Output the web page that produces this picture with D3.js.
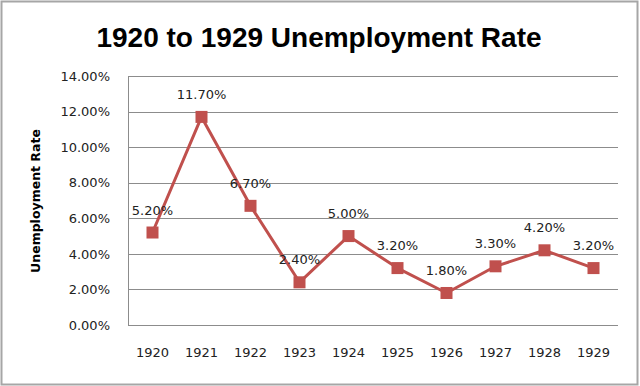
<!DOCTYPE html>
<html>
<head>
<meta charset="utf-8">
<script src="https://cdn.jsdelivr.net/npm/d3@7"></script>
<style>
  html, body { margin: 0; padding: 0; background: #fff; }
  svg { display: block; }
</style>
</head>
<body>
<svg id="chart" width="640" height="386"></svg>
<script>
// Chart data
const years = ["1920", "1921", "1922", "1923", "1924", "1925", "1926", "1927", "1928", "1929"];
const rates = [5.2, 11.7, 6.7, 2.4, 5.0, 3.2, 1.8, 3.3, 4.2, 3.2];
const yTicks = [0, 2, 4, 6, 8, 10, 12, 14];

const width = 640, height = 386;
const marginLeft = 128, marginTop = 76;
const xMax = 490, yMax = 249;
const red = "#C0504D";

const svg = d3.select("#chart");

// outer chart border
svg.append("rect")
  .attr("x", 1.5).attr("y", 1.5)
  .attr("width", width - 4).attr("height", height - 3)
  .attr("fill", "#fff")
  .attr("stroke", "#a6a6a6")
  .attr("stroke-width", 2);

// Title
svg.append("text")
  .attr("x", 319).attr("y", 47)
  .attr("text-anchor", "middle")
  .style("font-family", "'Liberation Sans', Arial, sans-serif")
  .style("font-weight", "bold")
  .style("font-size", "28px")
  .attr("fill", "#000")
  .text("1920 to 1929 Unemployment Rate");

// Y axis title
svg.append("text")
  .attr("transform", "translate(40,201) rotate(-90)")
  .attr("text-anchor", "middle")
  .style("font-family", "'DejaVu Sans', sans-serif")
  .style("font-weight", "bold")
  .style("font-size", "12.5px")
  .attr("fill", "#000")
  .text("Unemployment Rate");

const g = svg.append("g")
  .attr("transform", "translate(" + marginLeft + "," + marginTop + ")");

// Scales
const x = d3.scaleBand()
  .domain(years)
  .range([0, xMax]);

const y = d3.scaleLinear()
  .domain([0, 14])
  .range([yMax, 0]);

// Gridlines
g.append("g")
  .selectAll("line")
  .data(yTicks).enter()
  .append("line")
  .attr("x1", 0).attr("x2", xMax)
  .attr("y1", d => Math.round(y(d)) + 0.5)
  .attr("y2", d => Math.round(y(d)) + 0.5)
  .attr("stroke", "#8c8c8c")
  .attr("stroke-width", 1);

// Y axis
const yAxis = g.append("g")
  .call(d3.axisLeft(y).tickValues(yTicks).tickSize(0).tickPadding(18)
    .tickFormat(d => d.toFixed(2) + "%"));
yAxis.select(".domain").attr("stroke", "#8c8c8c").attr("d", "M0.5,0V" + yMax);
yAxis.selectAll("text")
  .style("font-family", "'DejaVu Sans', sans-serif")
  .style("font-size", "13px")
  .attr("fill", "#222");

// X axis
const xAxis = g.append("g")
  .attr("transform", "translate(0," + yMax + ")")
  .call(d3.axisBottom(x).tickSize(0).tickPadding(23));
xAxis.select(".domain").remove();
xAxis.selectAll("text")
  .style("font-family", "'DejaVu Sans', sans-serif")
  .style("font-size", "13px")
  .attr("fill", "#222");

const cx = d => x(d) + x.bandwidth() / 2;

// Line
g.append("path")
  .datum(rates)
  .attr("fill", "none")
  .attr("stroke", red)
  .attr("stroke-width", 3)
  .attr("stroke-linejoin", "round")
  .attr("d", d3.line().x((d, i) => cx(years[i])).y(d => y(d)));

// Markers
g.append("g")
  .selectAll("rect")
  .data(rates).enter()
  .append("rect")
  .attr("x", (d, i) => cx(years[i]) - 6)
  .attr("y", d => y(d) - 6)
  .attr("width", 12)
  .attr("height", 12)
  .attr("fill", red);

// Data labels
g.append("g")
  .selectAll("text")
  .data(rates).enter()
  .append("text")
  .attr("x", (d, i) => cx(years[i]))
  .attr("y", d => y(d) - 18)
  .attr("text-anchor", "middle")
  .style("font-family", "'DejaVu Sans', sans-serif")
  .style("font-size", "13px")
  .attr("fill", "#222")
  .text(d => d.toFixed(2) + "%");
</script>
</body>
</html>
